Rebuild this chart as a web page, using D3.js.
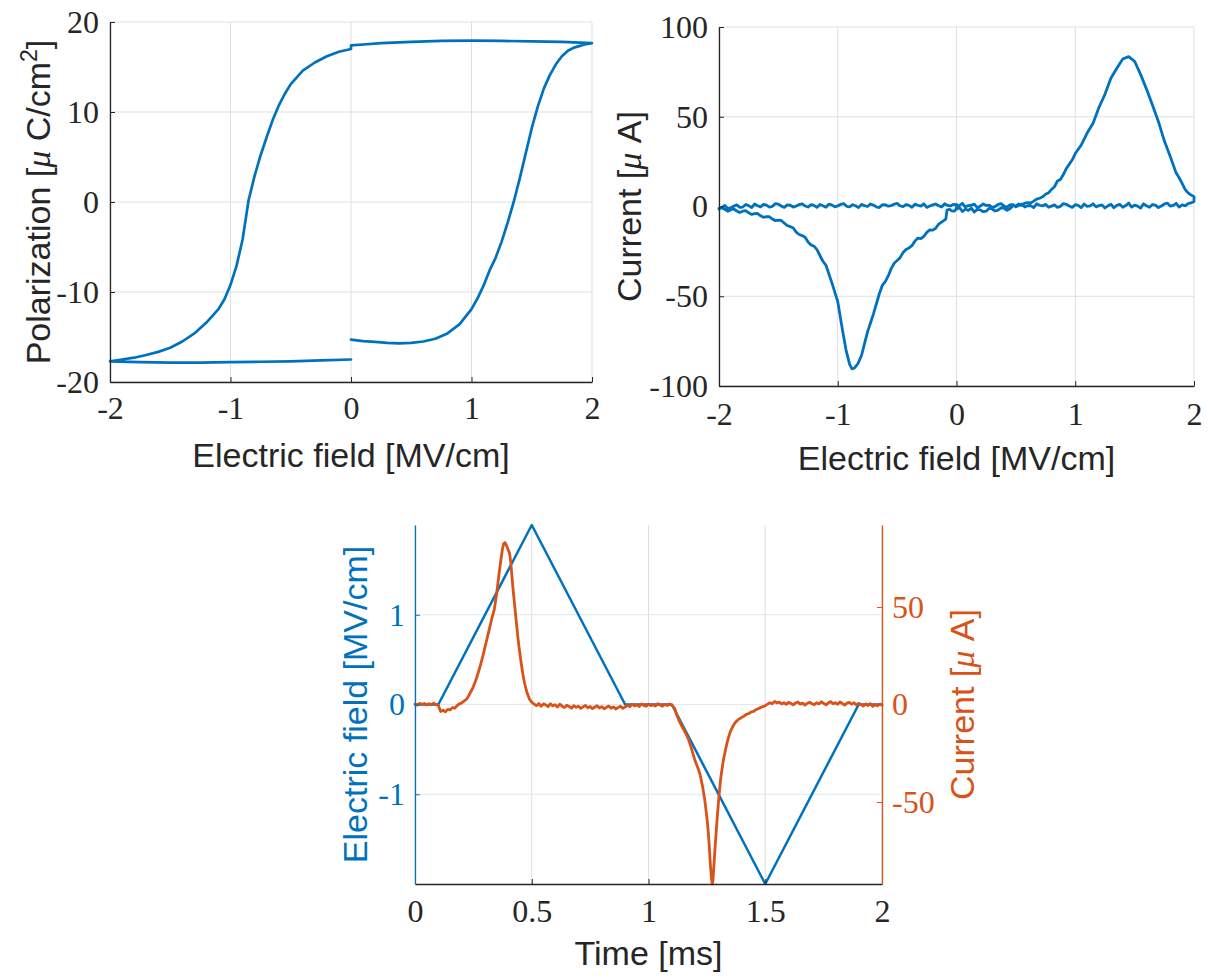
<!DOCTYPE html>
<html><head><meta charset="utf-8">
<script src="https://cdn.jsdelivr.net/npm/d3@7"></script>
<style>body{margin:0;background:#fff} svg{display:block}</style>
</head><body>
<svg id="c" width="1208" height="978"></svg>
<script>
// ---------------- DATA ----------------
// Top-left: polarization loop, [E (MV/cm), P (uC/cm2)]
const polRising = [[0,-15.3],[0.1,-15.45],[0.2,-15.55],[0.3,-15.65],[0.4,-15.7],[0.5,-15.65],[0.6,-15.5],[0.7,-15.2],[0.8,-14.6],[0.9,-13.6],[1.0,-11.9],[1.05,-10.7],[1.1,-9.3],[1.15,-7.6],[1.2,-6.2],[1.25,-4.4],[1.3,-2.3],[1.35,0.0],[1.4,2.6],[1.45,5.4],[1.5,8.2],[1.55,10.6],[1.6,12.6],[1.65,14.1],[1.7,15.3],[1.75,16.2],[1.8,16.8],[1.85,17.15],[1.9,17.35],[1.95,17.55],[2.0,17.65]];
const polTop = [[2.0,17.65],[1.75,17.8],[1.5,17.85],[1.25,17.9],[1.0,17.92],[0.75,17.9],[0.5,17.8],[0.25,17.65],[0.1,17.5],[0.0,17.4]];
const polFalling = [[0,17.0],[-0.1,16.7],[-0.2,16.2],[-0.3,15.5],[-0.4,14.6],[-0.5,13.1],[-0.55,12.0],[-0.6,10.7],[-0.65,9.1],[-0.7,7.2],[-0.75,5.2],[-0.8,2.9],[-0.85,0.2],[-0.9,-4.2],[-0.95,-7.1],[-1.0,-9.2],[-1.05,-10.8],[-1.1,-11.9],[-1.2,-13.4],[-1.3,-14.6],[-1.4,-15.5],[-1.5,-16.2],[-1.6,-16.65],[-1.7,-17.0],[-1.8,-17.3],[-1.9,-17.5],[-2.0,-17.7]];
const polBottom = [[-2.0,-17.7],[-1.75,-17.8],[-1.5,-17.85],[-1.25,-17.85],[-1.0,-17.8],[-0.75,-17.75],[-0.5,-17.7],[-0.25,-17.6],[0,-17.5]];

// Top-right: current vs field, [E (MV/cm), I (uA)]
const ivRising = [[0,-1.5],[0.025,-0.6],[0.05,-2.8],[0.075,-1.4],[0.1,-2.2],[0.125,-0.9],[0.15,-3.1],[0.175,-1.6],[0.2,-1.9],[0.225,-2.9],[0.25,-2.6],[0.275,-1.0],[0.3,-1.4],[0.325,-2.5],[0.35,-2.0],[0.375,-0.7],[0.4,-0.9],[0.425,-2.1],[0.45,-1.2],[0.475,0.4],[0.5,0.3],[0.525,1.4],[0.55,0.6],[0.575,1.9],[0.6,2.2],[0.625,2.0],[0.65,3.0],[0.675,4.1],[0.7,4.6],[0.725,5.4],[0.75,6.8],[0.775,7.6],[0.8,9.5],[0.825,11.0],[0.85,14.2],[0.875,15.1],[0.9,17.8],[0.925,21.2],[0.95,23.6],[0.975,26.0],[1.0,29.5],[1.05,34.2],[1.1,40.9],[1.15,46.4],[1.2,55.3],[1.25,62.5],[1.3,71.4],[1.35,77.0],[1.4,82.2],[1.45,83.5],[1.5,80.9],[1.55,73.6],[1.6,65.4],[1.65,56.5],[1.7,47.4],[1.75,36.6],[1.8,27.9],[1.85,18.6],[1.875,16.0],[1.9,12.9],[1.925,9.6],[1.95,7.6],[1.975,6.4],[2.0,5.5]];
const ivTop = [[2.0,2.8],[1.975,2.0],[1.95,1.6],[1.925,0.4],[1.9,0.9],[1.875,-0.3],[1.85,1.8],[1.825,0.6],[1.8,0.2],[1.775,1.9],[1.75,1.4],[1.725,0.3],[1.7,-0.6],[1.675,0.8],[1.65,1.1],[1.625,-0.4],[1.6,0.4],[1.575,1.5],[1.55,-0.9],[1.525,0.2],[1.5,0.8],[1.475,-0.3],[1.45,1.9],[1.425,0.5],[1.4,-0.4],[1.375,1.2],[1.35,0.6],[1.325,-0.7],[1.3,1.3],[1.275,0.4],[1.25,-0.8],[1.225,0.9],[1.2,0.5],[1.175,-0.2],[1.15,1.5],[1.125,0.3],[1.1,0.1],[1.075,1.4],[1.05,-0.7],[1.025,0.6],[1.0,1.0],[0.975,-0.5],[0.95,0.3],[0.925,1.2],[0.9,1.6],[0.875,0.1],[0.85,-0.5],[0.825,0.9],[0.8,0.2],[0.775,-0.4],[0.75,1.2],[0.725,0.3],[0.7,0.7],[0.675,1.5],[0.65,-0.6],[0.625,0.5],[0.6,0.4],[0.575,-0.3],[0.55,1.4],[0.525,0.6],[0.5,-0.2],[0.475,1.1],[0.45,0.9],[0.425,-0.4],[0.4,0.3],[0.375,1.6],[0.35,1.1],[0.325,0.0],[0.3,-0.5],[0.275,0.8],[0.25,0.6],[0.225,1.4],[0.2,0.2],[0.175,-0.6],[0.15,1.3],[0.125,0.7],[0.1,0.5],[0.075,-0.3],[0.05,1.8],[0.025,0.6],[0,0.4],[0,-1.0],[0,1.2]];
const ivFalling = [[0,-1.2],[-0.02,-2.6],[-0.04,-2.4],[-0.06,-1.5],[-0.08,-2.0],[-0.09,-7.0],[-0.12,-8.4],[-0.15,-9.8],[-0.175,-12.1],[-0.2,-13.2],[-0.225,-13.0],[-0.25,-14.4],[-0.275,-16.6],[-0.3,-17.9],[-0.325,-17.6],[-0.35,-19.3],[-0.375,-21.8],[-0.4,-23.1],[-0.425,-23.9],[-0.45,-25.6],[-0.475,-28.5],[-0.5,-30.1],[-0.525,-31.6],[-0.55,-34.6],[-0.575,-38.7],[-0.6,-41.9],[-0.625,-44.0],[-0.65,-48.6],[-0.7,-60],[-0.75,-70],[-0.8,-83],[-0.83,-87.5],[-0.86,-90],[-0.88,-90.5],[-0.9,-88],[-0.93,-80],[-0.96,-69],[-1.0,-53],[-1.05,-42.4],[-1.1,-32.6],[-1.125,-30.5],[-1.15,-27.3],[-1.175,-24.0],[-1.2,-22.1],[-1.225,-21.4],[-1.25,-19.8],[-1.275,-17.1],[-1.3,-16.2],[-1.325,-15.6],[-1.35,-14.3],[-1.375,-12.0],[-1.4,-11.2],[-1.425,-10.6],[-1.45,-9.3],[-1.475,-7.8],[-1.5,-7.6],[-1.525,-7.9],[-1.55,-7.0],[-1.575,-5.7],[-1.6,-5.6],[-1.625,-6.0],[-1.65,-5.2],[-1.675,-3.9],[-1.7,-4.0],[-1.725,-4.4],[-1.75,-3.5],[-1.775,-2.3],[-1.8,-2.6],[-1.825,-3.4],[-1.85,-2.5],[-1.875,-1.4],[-1.9,-1.8],[-1.925,-2.7],[-1.95,-1.6],[-1.975,-0.8],[-2.0,-1.0]];
const ivBottom = [[-2.0,-1.5],[-1.975,-0.4],[-1.95,0.6],[-1.925,-1.2],[-1.9,-0.8],[-1.875,0.3],[-1.85,0.9],[-1.825,-0.5],[-1.8,-0.3],[-1.775,1.1],[-1.75,0.5],[-1.725,-0.6],[-1.7,1.4],[-1.675,0.4],[-1.65,-0.2],[-1.625,1.2],[-1.6,0.8],[-1.575,-0.4],[-1.55,0.1],[-1.525,1.6],[-1.5,1.3],[-1.475,0.2],[-1.45,-0.5],[-1.425,0.9],[-1.4,0.7],[-1.375,-0.3],[-1.35,0.2],[-1.325,1.1],[-1.3,1.5],[-1.275,0.3],[-1.25,-0.3],[-1.225,1.0],[-1.2,0.6],[-1.175,-0.5],[-1.15,1.1],[-1.125,0.4],[-1.1,-0.4],[-1.075,1.3],[-1.05,0.9],[-1.025,-0.2],[-1.0,0.3],[-0.975,1.2],[-0.95,1.6],[-0.925,0.1],[-0.9,-0.2],[-0.875,1.0],[-0.85,0.4],[-0.825,-0.6],[-0.8,1.2],[-0.775,0.5],[-0.75,0.0],[-0.725,1.4],[-0.7,0.8],[-0.675,-0.2],[-0.65,-0.6],[-0.625,0.9],[-0.6,1.0],[-0.575,0.2],[-0.55,0.5],[-0.525,1.3],[-0.5,1.7],[-0.475,0.4],[-0.45,-0.1],[-0.425,1.1],[-0.4,0.6],[-0.375,-0.4],[-0.35,1.3],[-0.325,0.7],[-0.3,0.2],[-0.275,1.5],[-0.25,-0.5],[-0.225,0.3],[-0.2,0.9],[-0.175,1.4],[-0.15,0.4],[-0.125,-0.3],[-0.1,1.5],[-0.075,0.6],[-0.05,0.3],[-0.025,1.2],[0,1.0]];

// Bottom: waveforms vs time [t (ms), value]
const fieldT = [[0,0],[0.1,0],[0.5,2],[0.9,0],[1.1,0],[1.5,-2],[1.9,0],[2,0]];
const currentT = [[0,0.2],[0.01,-0.3],[0.02,0.6],[0.03,0.1],[0.04,0.5],[0.05,-0.2],[0.06,0.4],[0.07,0.0],[0.08,0.7],[0.09,-0.1],[0.1,-0.4],[0.105,-2.0],[0.11,-3.6],[0.12,-2.9],[0.13,-3.8],[0.14,-2.5],[0.15,-2.8],[0.16,-1.6],[0.17,-1.9],[0.18,-0.6],[0.19,0.3],[0.2,0.8],[0.21,1.8],[0.22,2.6],[0.23,4.5],[0.24,6.8],[0.25,9.2],[0.26,12.3],[0.27,16],[0.28,20],[0.29,24.5],[0.3,29.5],[0.31,34.5],[0.32,39.5],[0.33,44.5],[0.34,49],[0.35,57],[0.36,67],[0.37,76],[0.375,80],[0.38,82.5],[0.385,83],[0.39,82],[0.395,80.5],[0.4,79],[0.405,77.5],[0.41,73],[0.415,66],[0.42,59],[0.425,53],[0.43,47],[0.435,41],[0.44,35],[0.445,30],[0.45,25.5],[0.455,21],[0.46,17],[0.465,13.5],[0.47,10.5],[0.48,6],[0.49,2.8],[0.5,1.2],
[0.51,0.2],[0.52,-0.6],[0.53,0.5],[0.54,-0.9],[0.55,0.3],[0.56,-0.2],[0.57,-1.1],[0.58,0.4],[0.59,-0.7],[0.6,-0.1],[0.61,-1.3],[0.62,0.2],[0.63,-0.8],[0.64,-1.6],[0.65,-0.4],[0.66,-1.0],[0.67,-1.9],[0.68,-0.6],[0.69,-1.4],[0.7,-0.9],[0.71,-2.0],[0.72,-1.2],[0.73,-0.5],[0.74,-1.7],[0.75,-1.0],[0.76,-2.1],[0.77,-1.3],[0.78,-0.7],[0.79,-1.8],[0.8,-1.1],[0.81,-2.2],[0.82,-1.4],[0.83,-0.8],[0.84,-1.9],[0.85,-1.2],[0.86,-2.3],[0.87,-1.5],[0.88,-0.9],[0.89,-2.0],[0.9,-1.3],[0.91,-0.4],[0.92,-1.1],[0.93,0.1],[0.94,-0.7],[0.95,-0.2],[0.96,-1.0],[0.97,0.3],[0.98,-0.5],[0.99,-0.9],[1.0,0.2],[1.01,-0.6],[1.02,-0.1],[1.03,-0.8],[1.04,0.4],[1.05,-0.3],[1.06,-0.9],[1.07,0.1],[1.08,-0.5],[1.09,0.3],[1.1,-0.4],
[1.11,-1.5],[1.115,-3.0],[1.12,-5.0],[1.13,-8.0],[1.14,-10.5],[1.15,-12.7],[1.16,-15],[1.17,-17.5],[1.18,-21],[1.19,-25],[1.2,-29],[1.21,-32],[1.22,-35.5],[1.23,-41],[1.24,-48],[1.245,-53],[1.25,-58],[1.255,-64],[1.26,-72],[1.265,-82],[1.27,-89.5],[1.273,-92],[1.276,-90],[1.28,-83],[1.285,-73.5],[1.29,-65],[1.295,-57],[1.3,-49.5],[1.305,-43],[1.31,-37],[1.32,-29],[1.33,-23],[1.34,-18],[1.35,-14],[1.36,-11.5],[1.37,-9.5],[1.38,-8.2],[1.39,-7.3],[1.4,-6.6],[1.41,-5.8],[1.42,-5.0],[1.43,-4.6],[1.44,-3.8],[1.45,-3.5],[1.46,-2.6],[1.47,-2.2],[1.48,-1.5],[1.49,-1.1],[1.5,-0.6],[1.51,0.2],[1.52,0.9],[1.53,0.4],[1.54,1.6],[1.55,0.8],
[1.56,1.2],[1.57,0.3],[1.58,0.9],[1.59,0.1],[1.6,1.1],[1.61,0.5],[1.62,-0.2],[1.63,0.8],[1.64,1.3],[1.65,0.2],[1.66,0.7],[1.67,-0.3],[1.68,0.6],[1.69,1.2],[1.7,0.4],[1.71,-0.1],[1.72,0.9],[1.73,0.3],[1.74,1.4],[1.75,0.6],[1.76,-0.2],[1.77,0.8],[1.78,1.5],[1.79,0.4],[1.8,0.9],[1.81,0.1],[1.82,1.3],[1.83,0.5],[1.84,-0.3],[1.85,0.7],[1.86,1.1],[1.87,0.2],[1.88,0.9],[1.89,-0.2],[1.9,0.6],[1.91,0.0],[1.92,-0.8],[1.93,0.3],[1.94,-0.5],[1.95,0.4],[1.96,-0.9],[1.97,-0.1],[1.98,-0.7],[1.99,0.2],[2.0,-0.4]];

// Tick values
const fieldTicks = [-2,-1,0,1,2];
const polTicks = [-20,-10,0,10,20];
const curTicks = [-100,-50,0,50,100];
const timeTicks = [0,0.5,1,1.5,2];
const fieldTicksB = [-1,0,1];
const curTicksB = [-50,0,50];

// ---------------- DRAW ----------------
const BLUE="#0072BD", ORANGE="#D95319", AX="#262626", GRID="#dfdfdf", GRIDB="#d9eaf5";
const SERIF="'Liberation Serif','Times New Roman',serif", SANS="'Liberation Sans',Arial,sans-serif";
const svg = d3.select("#c");
const fmt = d => String(d);

function styleAxis(sel, color){
  sel.attr("font-size", null).attr("font-family", null);
  sel.select(".domain").attr("stroke", color).attr("stroke-width", 1.3);
  sel.selectAll(".tick line").attr("stroke", color).attr("stroke-width", 1);
  sel.selectAll(".tick text").attr("fill", color).attr("font-family", SERIF).attr("font-size", 32);
}
function gridV(x, ticks, y0, y1, color){
  svg.append("g").selectAll("line").data(ticks).join("line")
    .attr("x1", d=>x(d)).attr("x2", d=>x(d)).attr("y1", y0).attr("y2", y1)
    .attr("stroke", color).attr("stroke-width", 1);
}
function gridH(y, ticks, x0, x1, color){
  svg.append("g").selectAll("line").data(ticks).join("line")
    .attr("y1", d=>y(d)).attr("y2", d=>y(d)).attr("x1", x0).attr("x2", x1)
    .attr("stroke", color).attr("stroke-width", 1);
}
function label(x, y, rot, color, parts){
  const t = svg.append("text").attr("transform", `translate(${x},${y}) rotate(${rot})`)
    .attr("text-anchor","middle").attr("fill", color)
    .attr("font-family", SANS).attr("font-size", 34);
  parts.forEach(p => {
    const s = t.append("tspan").text(p.t);
    if (p.mu) s.attr("font-family", SERIF).attr("font-style","italic");
    if (p.sup) s.attr("dy", -13).attr("font-size", 23);
    if (p.down) s.attr("dy", 13);
  });
}
function drawLine(x, y, data, color, w){
  svg.append("path").datum(data)
    .attr("d", d3.line().x(d=>x(d[0])).y(d=>y(d[1])))
    .attr("fill","none").attr("stroke", color).attr("stroke-width", w)
    .attr("stroke-linejoin","round").attr("stroke-linecap","round");
}

// Panel 1
{
  const L=110,R=592,T=22,B=382;
  const x = d3.scaleLinear().domain([-2,2]).range([L,R]);
  const y = d3.scaleLinear().domain([-20,20]).range([B,T]);
  gridV(x, fieldTicks, T, B, GRID);
  gridH(y, polTicks, L, R, GRID);
  drawLine(x, y, polRising.concat(polTop, polFalling, polBottom), BLUE, 2.7);
  svg.append("g").attr("transform",`translate(0,${B})`)
    .call(d3.axisBottom(x).tickValues(fieldTicks).tickFormat(fmt).tickSizeInner(-5).tickSizeOuter(0).tickPadding(14))
    .call(s=>styleAxis(s, AX));
  svg.append("g").attr("transform",`translate(${L},0)`)
    .call(d3.axisLeft(y).tickValues(polTicks).tickFormat(fmt).tickSizeInner(-5).tickSizeOuter(0).tickPadding(11))
    .call(s=>styleAxis(s, AX));
  label((L+R)/2, 467, 0, AX, [{t:"Electric field [MV/cm]"}]);
  label(50, (T+B)/2, -90, AX, [{t:"Polarization ["},{t:"μ",mu:true},{t:" C/cm"},{t:"2",sup:true},{t:"]",down:true}]);
}

// Panel 2
{
  const L=719,R=1194,T=27,B=386;
  const x = d3.scaleLinear().domain([-2,2]).range([L,R]);
  const y = d3.scaleLinear().domain([-100,100]).range([B,T]);
  gridV(x, fieldTicks, T, B, GRID);
  gridH(y, curTicks, L, R, GRID);
  drawLine(x, y, ivRising.concat(ivTop, ivFalling, ivBottom), BLUE, 2.8);
  svg.append("g").attr("transform",`translate(0,${B})`)
    .call(d3.axisBottom(x).tickValues(fieldTicks).tickFormat(fmt).tickSizeInner(-5).tickSizeOuter(0).tickPadding(16))
    .call(s=>styleAxis(s, AX));
  svg.append("g").attr("transform",`translate(${L},0)`)
    .call(d3.axisLeft(y).tickValues(curTicks).tickFormat(fmt).tickSizeInner(-5).tickSizeOuter(0).tickPadding(11))
    .call(s=>styleAxis(s, AX));
  label((L+R)/2, 470, 0, AX, [{t:"Electric field [MV/cm]"}]);
  label(641, (T+B)/2, -90, AX, [{t:"Current ["},{t:"μ",mu:true},{t:" A]"}]);
}

// Panel 3
{
  const L=415,R=882,T=525,B=884;
  const x = d3.scaleLinear().domain([0,2]).range([L,R]);
  const yE = d3.scaleLinear().domain([-2,2]).range([B,T]);
  const yI = d3.scaleLinear().domain([-92,92]).range([B,T]);
  gridV(x, timeTicks, T, B, GRID);
  gridH(yE, fieldTicksB, L, R, GRIDB);
  drawLine(x, yE, fieldT, BLUE, 2.5);
  drawLine(x, yI, currentT, ORANGE, 2.8);
  svg.append("g").attr("transform",`translate(0,${B})`)
    .call(d3.axisBottom(x).tickValues(timeTicks).tickFormat(fmt).tickSizeInner(-5).tickSizeOuter(0).tickPadding(15))
    .call(s=>styleAxis(s, AX));
  svg.append("g").attr("transform",`translate(${L},0)`)
    .call(d3.axisLeft(yE).tickValues(fieldTicksB).tickFormat(fmt).tickSizeInner(-5).tickSizeOuter(0).tickPadding(10))
    .call(s=>styleAxis(s, BLUE));
  svg.append("g").attr("transform",`translate(${R},0)`)
    .call(d3.axisRight(yI).tickValues(curTicksB).tickFormat(fmt).tickSizeInner(-5).tickSizeOuter(0).tickPadding(10))
    .call(s=>styleAxis(s, ORANGE));
  label((L+R)/2, 965, 0, AX, [{t:"Time [ms]"}]);
  label(367, (T+B)/2, -90, BLUE, [{t:"Electric field [MV/cm]"}]);
  label(974, (T+B)/2, -90, ORANGE, [{t:"Current ["},{t:"μ",mu:true},{t:" A]"}]);
}
</script>
</body></html>
